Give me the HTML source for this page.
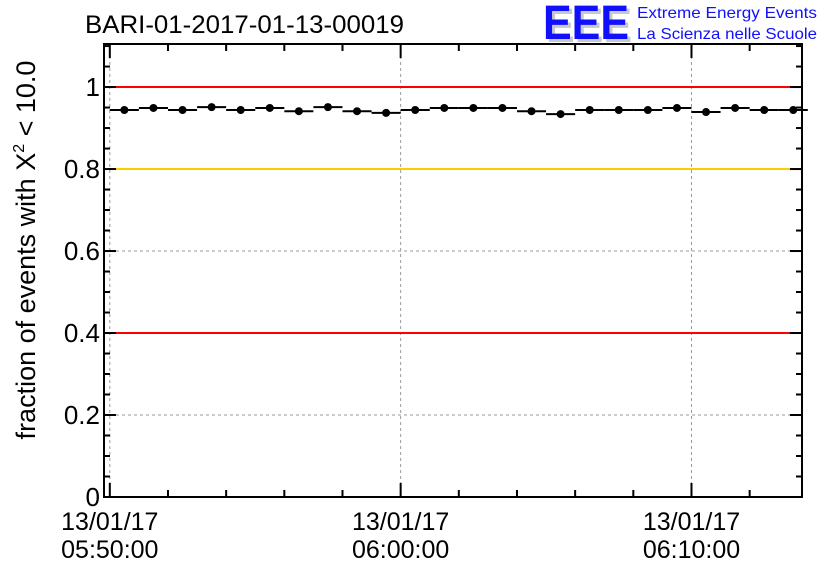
<!DOCTYPE html>
<html><head><meta charset="utf-8"><style>
body{margin:0;background:#fff;}
svg text{font-family:"Liberation Sans",sans-serif;}
</style></head><body>
<svg id="chart" width="836" height="572" xmlns="http://www.w3.org/2000/svg">
<rect width="836" height="572" fill="#fff"/>
<text x="85" y="33" font-size="25" textLength="319" lengthAdjust="spacingAndGlyphs">BARI-01-2017-01-13-00019</text>
<g>
<text x="546" y="42" font-size="48" font-weight="bold" fill="#c8c8c8" textLength="86" lengthAdjust="spacingAndGlyphs">EEE</text>
<text x="543" y="39" font-size="48" font-weight="bold" fill="#1010ff" textLength="86" lengthAdjust="spacingAndGlyphs">EEE</text>
<text x="637" y="18" font-size="16" fill="#1010ff" textLength="180" lengthAdjust="spacingAndGlyphs">Extreme Energy Events</text>
<text x="637" y="39" font-size="16" fill="#1010ff" textLength="180" lengthAdjust="spacingAndGlyphs">La Scienza nelle Scuole</text>
</g>
<text transform="translate(35,250) rotate(-90)" text-anchor="middle" font-size="27">fraction of events with X<tspan dy="-11" font-size="16">2</tspan><tspan dy="11"> &lt; 10.0</tspan></text>
<g id="grid"></g><g id="axes"></g><g id="marks"></g>
</svg>
<script>
const values=[0.944,0.949,0.944,0.951,0.944,0.949,0.941,0.951,0.941,0.937,0.944,0.949,0.949,0.949,0.941,0.934,0.944,0.944,0.944,0.949,0.939,0.949,0.944,0.944];
const binStartMinutes=[0,1,2,3,4,5,6,7,8,9,10,11,12,13,14,15,16,17,18,19,20,21,22,23];
const yTicks=[0,0.2,0.4,0.6,0.8,1];
const yTickLabels=["0","0.2","0.4","0.6","0.8","1"];
const xMajor=[0,10,20];
const xMajorLabels=[["13/01/17","05:50:00"],["13/01/17","06:00:00"],["13/01/17","06:10:00"]];
const refRed=[1,0.4];
const refYellow=[0.8];
const L=104,R=802,T=44,B=497;
const xMin=-0.2,xMax=23.8,yMin=0,yMax=1.105;
const X=m=>L+(m-xMin)/(xMax-xMin)*(R-L);
const Y=v=>B-(v-yMin)/(yMax-yMin)*(B-T);
const NS="http://www.w3.org/2000/svg";
function mk(tag,attrs,parent){const e=document.createElementNS(NS,tag);for(const k in attrs)e.setAttribute(k,attrs[k]);document.getElementById(parent).appendChild(e);return e;}
xMajor.forEach(m=>{const e=mk('line',{x1:X(m),x2:X(m),y1:T,y2:B,stroke:'#999','stroke-dasharray':'3,3','stroke-width':1},'grid');

});
yTicks.forEach(v=>{const e=mk('line',{x1:L,x2:R,y1:Y(v),y2:Y(v),stroke:'#999','stroke-dasharray':'3,3','stroke-width':1},'grid');

});
refRed.forEach(v=>{const e=mk('line',{x1:L,x2:R,y1:Y(v),y2:Y(v),stroke:'#ff0000','stroke-width':2},'grid');

});
refYellow.forEach(v=>{const e=mk('line',{x1:L,x2:R,y1:Y(v),y2:Y(v),stroke:'#ffcc00','stroke-width':2},'grid');

});
const fr=mk('rect',{x:L,y:T,width:R-L,height:B-T,fill:'none',stroke:'#000','stroke-width':2},'axes');


for(let i=0;i<=22;i++){const v=i*0.05;if(v>yMax)break;const maj=i%4===0;const len=maj?12:6;
mk('line',{x1:L,x2:L+len,y1:Y(v),y2:Y(v),stroke:'#000','stroke-width':2},'axes');
mk('line',{x1:R,x2:R-len,y1:Y(v),y2:Y(v),stroke:'#000','stroke-width':2},'axes');}
yTicks.forEach((v,i)=>{const t=mk('text',{x:L-4,y:Y(v)+9,'text-anchor':'end','font-size':26},'axes');t.textContent=yTickLabels[i];

});
for(let m=0;m<=22;m+=2){const maj=m%10===0;const len=maj?14:7;
mk('line',{x1:X(m),x2:X(m),y1:B,y2:B-len,stroke:'#000','stroke-width':2},'axes');
mk('line',{x1:X(m),x2:X(m),y1:T,y2:T+len,stroke:'#000','stroke-width':2},'axes');}
xMajor.forEach((m,i)=>{xMajorLabels[i].forEach((s,j)=>{const t=mk('text',{x:X(m),y:530+j*28,'text-anchor':'middle','font-size':25},'axes');t.textContent=s;

});});
values.forEach((v,i)=>{const x0=X(binStartMinutes[i]),x1=X(binStartMinutes[i]+1);
const h=mk('line',{x1:x0,x2:x1,y1:Y(v),y2:Y(v),stroke:'#000','stroke-width':2},'marks');


const c=mk('circle',{cx:(x0+x1)/2,cy:Y(v),r:4,fill:'#000'},'marks');

});
</script>
</body></html>
